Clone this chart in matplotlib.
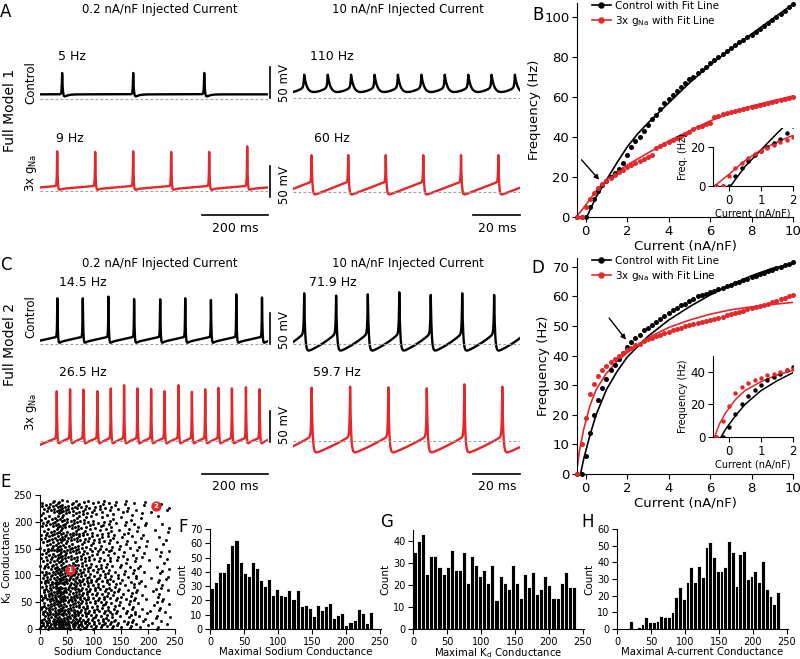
import numpy as np
import matplotlib
matplotlib.use("Agg")
import matplotlib.pyplot as plt
from matplotlib.lines import Line2D

plt.rcParams['font.family'] = ['DejaVu Sans']

# ------------------------------------------------------------------ DATA
RED = "#e5262a"

# --- voltage traces: spike times (ms) and spike peak voltages (mV)
A_ctrl_low_spikes = [67, 282, 497]
A_ctrl_low_peaks = [-18, -18, -18]
A_gna_low_spikes = [52, 167, 282, 397, 512, 627]
A_gna_low_peaks = [4, 3, 4, 3, 3, 12]
A_ctrl_high_spikes = [4.8, 14.9, 24.9, 35.0, 45.0, 55.1, 65.1, 75.2, 85.2, 95.2]
A_ctrl_high_peaks = [-22] * 10
A_gna_high_spikes = [8.0, 23.7, 39.8, 55.9, 72.1, 88.1]
A_gna_high_peaks = [-1, -1, -1, -1, -1, -1]

C_ctrl_low_spikes = [52.4, 129.4, 207.0, 284.8, 363.6, 439.4, 517.3, 594.0, 671.8]
C_ctrl_low_peaks = [19.6, 19.6, 16.9, 16.9, 20.6, 19.6, 15.3, 20.6, 19.6]
C_gna_low_spikes = [50.6, 90.9, 131.2, 173.6, 214.2, 254.5, 294.8, 336.3, 376.6,
                    419.0, 459.6, 499.9, 540.2, 580.8, 623.2, 664.4]
C_gna_low_peaks = [30, 30, 26, 30, 28, 30, 30, 29, 30, 30, 29, 30, 29, 30, 30, 30]
C_ctrl_high_spikes = [4.8, 18.5, 32.1, 45.6, 59.1, 72.6, 86.3]
C_ctrl_high_peaks = [22.3, 18.5, 20.6, 23.9, 19.6, 22.3, 19.6]
C_gna_high_spikes = [8.0, 24.5, 40.9, 57.4, 73.5, 89.8]
C_gna_high_peaks = [26, 27.6, 26.5, 25, 31.4, 27.6]

# --- f-I curves
current = [-0.4, -0.2, 0.0, 0.2, 0.4, 0.6, 0.8, 1.0, 1.2, 1.4, 1.6, 1.8, 2.0, 2.2, 2.4,
           2.6, 2.8, 3.0, 3.2, 3.4, 3.6, 3.8, 4.0, 4.2, 4.4, 4.6, 4.8, 5.0, 5.2, 5.4,
           5.6, 5.8, 6.0, 6.2, 6.4, 6.6, 6.8, 7.0, 7.2, 7.4, 7.6, 7.8, 8.0, 8.2, 8.4,
           8.6, 8.8, 9.0, 9.2, 9.4, 9.6, 9.8, 10.0]
B_ctrl = [0, 0, 0, 5, 9, 13, 16, 18, 20, 22, 24, 27, 31, 35, 38,
          40, 43, 46, 49, 51, 54, 57, 59, 61, 63, 65, 67, 69, 70, 72,
          73.5, 75, 77, 78.5, 80, 81.5, 83, 84.5, 86, 87.5, 88.5, 90, 91, 92.5, 94,
          95.5, 97, 98.5, 100, 101.5, 103, 105, 106.5]
B_gna = [0, 0, 5, 9, 12, 14.5, 16.5, 18, 19.5, 21, 22.5, 23.5, 25, 26, 27,
         28, 29, 30, 31, 34.5, 35.5, 36.5, 37.5, 38.5, 39.5, 40.5, 41.5, 42.5, 44, 45,
         45.5, 46.5, 47, 50, 50.5, 51.5, 52, 52.5, 53, 53.5, 54, 54.5, 55, 55.5, 56,
         56.5, 57, 57.5, 58, 58.5, 59, 59.5, 60]
B_ctrl_fit_x = [0.05, 0.5, 1, 1.5, 2, 2.5, 3, 4, 5, 6, 7, 8, 9, 10]
B_ctrl_fit_y = [0, 10, 18.5, 27, 35, 41.5, 47, 57, 67, 76, 84, 91.5, 99, 106.5]
B_gna_fit_x = [-0.45, 0, 0.5, 1, 1.5, 2, 2.5, 3, 3.5, 4, 5, 6, 7, 8, 9, 10]
B_gna_fit_y = [0, 6, 13, 18.5, 22.5, 26, 29, 32, 35, 38, 43, 48, 52, 55.5, 58, 60.5]

D_ctrl = [0, 0, 6, 14, 20, 25, 29, 32, 35, 37, 39, 41, 43, 44.5, 46,
          47, 48.5, 49.5, 50.5, 51.5, 52.5, 53.5, 54.5, 55.5, 56, 57, 57.5, 58.5, 59, 60,
          60.5, 61, 61.5, 62, 62.5, 63, 63.5, 64, 64.5, 65, 65.5, 66, 66.5, 67, 67.5,
          68, 68.5, 69, 69.5, 70, 70.5, 71, 71.5]
D_gna = [0, 10, 19, 27, 30.5, 33, 35, 36.5, 38, 39, 40, 41, 42, 42.5, 43.5,
         44, 45, 45.5, 46, 46.5, 47, 47.5, 48, 48.5, 49, 49.5, 50, 50.5, 50.8, 51.1,
         51.4, 51.7, 52, 52.4, 52.8, 53.2, 53.6, 54, 54.4, 54.8, 55.2, 55.6, 56, 56.4, 56.8,
         57.2, 57.6, 58, 58.5, 59, 59.5, 60, 60.5]
D_ctrl_fit_x = [-0.25, -0.1, 0.2, 0.5, 1, 1.5, 2, 3, 4, 5, 6, 7, 8, 9, 10]
D_ctrl_fit_y = [0, 5, 13, 20, 28.5, 34.5, 39.5, 46.5, 52, 56.5, 60.5, 64, 67, 69.5, 71]
D_gna_fit_x = [-0.45, -0.3, -0.1, 0.2, 0.5, 1, 1.5, 2, 3, 4, 5, 6, 7, 8, 9, 10]
D_gna_fit_y = [0, 8, 15, 23, 28.5, 34, 38, 41, 46, 49.5, 52, 54, 55.5, 56.5, 57.3, 58]

# --- conductance histograms (40 bins each)
na_counts = [29, 33, 40, 40, 46, 59, 62, 47, 39, 37, 47, 43, 34, 30, 35, 24, 28, 24, 23, 27,
             21, 27, 16, 17, 15, 9, 17, 13, 16, 18, 8, 10, 11, 3, 5, 6, 14, 11, 4, 12]
na_range = [0, 240]
kd_counts = [35, 40, 43, 25, 33, 33, 28, 25, 28, 36, 27, 27, 35, 21, 33, 29, 24, 27, 21, 29,
             13, 24, 21, 18, 29, 21, 14, 25, 19, 26, 16, 18, 24, 20, 14, 14, 21, 26, 19, 19]
kd_range = [0, 240]
ka_counts = [5, 0, 1, 3, 7, 4, 4, 5, 8, 7, 7, 10, 19, 25, 18, 28, 37, 28, 38, 31,
             49, 52, 43, 35, 35, 37, 53, 46, 26, 45, 47, 30, 32, 35, 28, 41, 24, 20, 15, 22]
ka_range = [18, 240]
model_points_na = [55, 215]
model_points_kd = [110, 230]
model_labels = ["1", "2"]

# ------------------------------------------------------------------ FIGURE
W, H = 800, 659
fig = plt.figure(figsize=(W / 100, H / 100), dpi=100)


def ftext(x, y, s, **kw):
    return fig.text(x / W, 1 - y / H, s, **kw)


def ax_px(x0, y0, x1, y1):
    return fig.add_axes([x0 / W, 1 - y1 / H, (x1 - x0) / W, (y1 - y0) / H])


S = 50 / 31.0  # mV per pixel


def trace_ax(x0, x1, y_dash, tmax, top=70, bot=50):
    ax = fig.add_axes([x0 / W, 1 - (y_dash + bot) / H, (x1 - x0) / W, (top + bot) / H])
    ax.set_xlim(0, tmax)
    ax.set_ylim(-60 - bot * S, -60 + top * S)
    ax.axis('off')
    return ax


def make_trace(tmax, dt, spikes, peaks, v_pre, v_trough, k=0.0, w_rise=0.3, w_fall=0.5,
               ahp=0.0, tau_ahp=5.0):
    t = np.arange(0, tmax + dt, dt)
    sp = np.asarray(spikes, float)
    isi = np.mean(np.diff(sp)) if len(sp) > 1 else 200.0
    ext = np.concatenate([[sp[0] - isi], sp, [sp[-1] + isi]])
    idx = np.clip(np.searchsorted(ext, t, side='right') - 1, 0, len(ext) - 2)
    phi = (t - ext[idx]) / (ext[idx + 1] - ext[idx])
    if abs(k) < 1e-6:
        g = phi
    else:
        g = (1 - np.exp(-k * phi)) / (1 - np.exp(-k))
    v = v_trough + (v_pre - v_trough) * g
    for ts, vp in zip(sp, peaks):
        tau = t - ts
        pre = tau < 0
        up = (vp - v_pre) * np.exp(np.minimum(tau, 0) / w_rise)
        down = (vp - v_trough + ahp) * np.exp(-np.maximum(tau, 0) / w_fall) \
            - ahp * np.exp(-np.maximum(tau, 0) / tau_ahp)
        v = v + np.where(pre, up, down)
    return t, v


def draw_trace(ax, t, v, color, tmax):
    ax.plot(t, v, color=color, lw=1.7, solid_joinstyle='round')
    ax.plot([0, tmax], [-60, -60], color='#a0a0a0', lw=0.8, ls=(0, (2.5, 2)))


T_LOW = 690.0
T_HIGH = 97.4
LX0, LX1 = 40, 268
RX0, RX1 = 293, 520

# ---------------- Row A
ax = trace_ax(LX0, LX1, 99, T_LOW)
t, v = make_trace(T_LOW, 0.25, A_ctrl_low_spikes, A_ctrl_low_peaks, -52.5, -52.5,
                  w_rise=1.2, w_fall=2.0, ahp=9, tau_ahp=10)
draw_trace(ax, t, v, 'black', T_LOW)
ax.plot([T_LOW + 6, T_LOW + 6], [-58, -8], color='black', lw=1.2, clip_on=False)
ftext(285, 83, "50 mV", rotation=90, ha='center', va='center', fontsize=8.5)

ax = trace_ax(LX0, LX1, 191, T_LOW)
t, v = make_trace(T_LOW, 0.25, A_gna_low_spikes, A_gna_low_peaks, -52, -57,
                  w_rise=1.0, w_fall=1.5, ahp=6, tau_ahp=6)
draw_trace(ax, t, v, RED, T_LOW)
ax.plot([T_LOW + 6, T_LOW + 6], [-70, -20], color='black', lw=1.2, clip_on=False)
ftext(285, 185, "50 mV", rotation=90, ha='center', va='center', fontsize=8.5)
ax.plot([T_LOW - 200, T_LOW], [-60 - 24 * S] * 2, color='black', lw=1.2, clip_on=False)
ftext(235, 228, "200 ms", ha='center', va='center', fontsize=9)

ax = trace_ax(RX0, RX1, 98.3, T_HIGH)
t, v = make_trace(T_HIGH, 0.02, A_ctrl_high_spikes, A_ctrl_high_peaks, -42, -53, k=-2,
                  w_rise=0.25, w_fall=1.2)
draw_trace(ax, t, v, 'black', T_HIGH)

ax = trace_ax(RX0, RX1, 191.7, T_HIGH)
t, v = make_trace(T_HIGH, 0.02, A_gna_high_spikes, A_gna_high_peaks, -44, -67,
                  w_rise=0.15, w_fall=0.3)
draw_trace(ax, t, v, RED, T_HIGH)
ax.plot([T_HIGH - 20, T_HIGH], [-60 - 23.3 * S] * 2, color='black', lw=1.2, clip_on=False)
ftext(497, 228, "20 ms", ha='center', va='center', fontsize=9)

# ---------------- Row C
ax = trace_ax(LX0, LX1, 344.3, T_LOW)
t, v = make_trace(T_LOW, 0.25, C_ctrl_low_spikes, C_ctrl_low_peaks, -48, -57,
                  w_rise=0.8, w_fall=1.5, ahp=12, tau_ahp=4)
draw_trace(ax, t, v, 'black', T_LOW)
ax.plot([T_LOW + 6, T_LOW + 6], [-60, -10], color='black', lw=1.2, clip_on=False)
ftext(285, 330, "50 mV", rotation=90, ha='center', va='center', fontsize=8.5)

ax = trace_ax(LX0, LX1, 441, T_LOW)
t, v = make_trace(T_LOW, 0.25, C_gna_low_spikes, C_gna_low_peaks, -55, -64,
                  w_rise=0.8, w_fall=1.5, ahp=13, tau_ahp=4)
draw_trace(ax, t, v, RED, T_LOW)
ax.plot([T_LOW + 6, T_LOW + 6], [-61, -11], color='black', lw=1.2, clip_on=False)
ftext(285, 425, "50 mV", rotation=90, ha='center', va='center', fontsize=8.5)
ax.plot([T_LOW - 200, T_LOW], [-60 - 33 * S] * 2, color='black', lw=1.2, clip_on=False)
ftext(235, 487, "200 ms", ha='center', va='center', fontsize=9)

ax = trace_ax(RX0, RX1, 344.3, T_HIGH)
t, v = make_trace(T_HIGH, 0.02, C_ctrl_high_spikes, C_ctrl_high_peaks, -42, -74, k=-0.8,
                  w_rise=0.2, w_fall=0.4)
draw_trace(ax, t, v, 'black', T_HIGH)

ax = trace_ax(RX0, RX1, 441, T_HIGH)
t, v = make_trace(T_HIGH, 0.02, C_gna_high_spikes, C_gna_high_peaks, -52, -82, k=-0.5,
                  w_rise=0.2, w_fall=0.4)
draw_trace(ax, t, v, RED, T_HIGH)
ax.plot([T_HIGH - 20, T_HIGH], [-60 - 33 * S] * 2, color='black', lw=1.2, clip_on=False)
ftext(497, 487, "20 ms", ha='center', va='center', fontsize=9)

# texts for trace rows
ftext(160, 10, "0.2 nA/nF Injected Current", ha='center', va='center', fontsize=8.5)
ftext(408, 10, "10 nA/nF Injected Current", ha='center', va='center', fontsize=8.5)
ftext(160, 263, "0.2 nA/nF Injected Current", ha='center', va='center', fontsize=8.5)
ftext(408, 263, "10 nA/nF Injected Current", ha='center', va='center', fontsize=8.5)
ftext(72, 57, "5 Hz", ha='center', va='center', fontsize=9)
ftext(70, 139, "9 Hz", ha='center', va='center', fontsize=9)
ftext(332, 57, "110 Hz", ha='center', va='center', fontsize=9)
ftext(332, 139, "60 Hz", ha='center', va='center', fontsize=9)
ftext(83, 282, "14.5 Hz", ha='center', va='center', fontsize=9)
ftext(83, 372, "26.5 Hz", ha='center', va='center', fontsize=9)
ftext(333, 282, "71.9 Hz", ha='center', va='center', fontsize=9)
ftext(337, 372, "59.7 Hz", ha='center', va='center', fontsize=9)
ftext(10, 110, "Full Model 1", rotation=90, ha='center', va='center', fontsize=10)
ftext(10, 345, "Full Model 2", rotation=90, ha='center', va='center', fontsize=10)
ftext(31, 83, "Control", rotation=90, ha='center', va='center', fontsize=8.5)
ftext(31, 173, "3x g$_{\\mathregular{Na}}$", rotation=90, ha='center', va='center', fontsize=8.5)
ftext(31, 317, "Control", rotation=90, ha='center', va='center', fontsize=8.5)
ftext(31, 412, "3x g$_{\\mathregular{Na}}$", rotation=90, ha='center', va='center', fontsize=8.5)

for lab, x, y in [("A", 6, 12), ("B", 538, 15), ("C", 6, 265), ("D", 538, 268),
                  ("E", 6, 482), ("F", 183, 527), ("G", 387, 522), ("H", 588, 522)]:
    ftext(x, y, lab, ha='center', va='center', fontsize=12)


# ---------------- f-I panels
def style(ax, fs):
    for s in ['top', 'right']:
        ax.spines[s].set_visible(False)
    ax.tick_params(direction='out', length=3.5, width=0.8, labelsize=fs, pad=2)


def fi_panel(box, yctrl, ygna, fcx, fcy, fgx, fgy, ylim, yticks, arrow):
    ax = ax_px(*box)
    style(ax, 9.5)
    ax.plot(fcx, fcy, color='black', lw=1.2, zorder=2)
    ax.plot(fgx, fgy, color=RED, lw=1.2, zorder=2)
    ax.plot(current, yctrl, 'o', color='black', ms=3.6, mew=0, zorder=3, clip_on=False)
    ax.plot(current, ygna, 'o', color=RED, ms=3.6, mew=0, zorder=3, clip_on=False)
    ax.set_xlim(-0.42, 10)
    ax.set_ylim(0, ylim)
    ax.set_xticks([0, 2, 4, 6, 8, 10])
    ax.set_yticks(yticks)
    ax.set_xlabel("Current (nA/nF)", fontsize=9.5, labelpad=1)
    ax.set_ylabel("Frequency (Hz)", fontsize=9.5, labelpad=2)
    ax.annotate("", xy=arrow[1], xytext=arrow[0],
                arrowprops=dict(arrowstyle='-|>', color='black', lw=1.0,
                                mutation_scale=7, shrinkA=0, shrinkB=0))
    handles = [Line2D([], [], color='black', marker='o', ms=3.6, lw=1.2),
               Line2D([], [], color=RED, marker='o', ms=3.6, lw=1.2)]
    ax.legend(handles, ["Control with Fit Line", "3x g$_{\\mathregular{Na}}$ with Fit Line"],
              loc='upper left', bbox_to_anchor=(0.05, 1.03), frameon=False, fontsize=7.5,
              handlelength=1.8, handletextpad=0.4, labelspacing=0.3, borderaxespad=0)
    return ax


def fi_inset(box, yctrl, ygna, fcx, fcy, fgx, fgy, ylim, yticks, ylabel, spine_top):
    ax = ax_px(*box)
    style(ax, 8.5)
    ax.plot(fcx, fcy, color='black', lw=1.1, zorder=2)
    ax.plot(fgx, fgy, color=RED, lw=1.1, zorder=2)
    ax.plot(current, yctrl, 'o', color='black', ms=3.2, mew=0, zorder=3)
    ax.plot(current, ygna, 'o', color=RED, ms=3.2, mew=0, zorder=3)
    ax.set_xlim(-0.5, 2)
    ax.set_ylim(0, ylim)
    ax.spines['left'].set_bounds(0, spine_top)
    ax.set_xticks([0, 1, 2])
    ax.set_yticks(yticks)
    ax.set_xlabel("Current (nA/nF)", fontsize=7, labelpad=1)
    ax.set_ylabel(ylabel, fontsize=7, labelpad=2)
    ax.patch.set_alpha(0)
    return ax


fi_panel((577, 3, 793, 217), B_ctrl, B_gna, B_ctrl_fit_x, B_ctrl_fit_y, B_gna_fit_x, B_gna_fit_y,
         107, [0, 20, 40, 60, 80, 100], ((-0.2, 28.6), (0.65, 18.6)))
fi_inset((713, 127.5, 793, 186), B_ctrl, B_gna, B_ctrl_fit_x, B_ctrl_fit_y, B_gna_fit_x,
         B_gna_fit_y, 30, [0, 20], "Freq. (Hz)", 20)
fi_panel((577, 258, 793, 474), D_ctrl, D_gna, D_ctrl_fit_x, D_ctrl_fit_y, D_gna_fit_x, D_gna_fit_y,
         73, [0, 10, 20, 30, 40, 50, 60, 70], ((1.13, 52.7), (1.94, 45.4)))
fi_inset((713, 355.6, 793, 437), D_ctrl, D_gna, D_ctrl_fit_x, D_ctrl_fit_y, D_gna_fit_x,
         D_gna_fit_y, 50, [0, 20, 40], "Frequency (Hz)", 50)


# ---------------- bottom row
def inv_cdf(u, counts, rng):
    counts = np.asarray(counts, float)
    edges = np.linspace(rng[0], rng[1], len(counts) + 1)
    cdf = np.concatenate([[0.0], np.cumsum(counts)]) / counts.sum()
    return np.interp(u, cdf, edges)


def hist_panel(box, counts, rng, xlabel, ylim, yticks):
    ax = ax_px(*box)
    style(ax, 7)
    n = len(counts)
    w = (rng[1] - rng[0]) / n
    left = [rng[0] + i * w for i in range(n)]
    ax.bar(left, counts, width=w, align='edge', color='black', edgecolor='white', linewidth=0.6)
    ax.set_xlim(0, 252)
    ax.set_ylim(0, ylim)
    ax.set_xticks([0, 50, 100, 150, 200, 250])
    ax.set_yticks(yticks)
    ax.set_xlabel(xlabel, fontsize=7.3, labelpad=0)
    ax.set_ylabel("Count", fontsize=7.5, labelpad=2)
    return ax


# E scatter: one point per model; coordinates placed through the histogram
# quantiles of panels F (sodium) and G (Kd) using an even 2-D quasi-uniform layout
n_models = int(np.sum(na_counts))
g = 1.32471795724474602596
idx = np.arange(n_models)
u = np.mod(0.5 + idx / g, 1.0)
w2 = np.mod(0.5 + idx / g ** 2, 1.0)
na_vals = inv_cdf(u, na_counts, na_range)
kd_vals = inv_cdf(w2, kd_counts, kd_range)

ax = ax_px(40, 495, 175, 629)
style(ax, 7)
ax.scatter(na_vals, kd_vals, s=4.5, color='black', linewidths=0, clip_on=False)
ax.scatter(model_points_na, model_points_kd, s=55, color=RED, linewidths=0, zorder=4)
for xx, yy, lab in zip(model_points_na, model_points_kd, model_labels):
    ax.text(xx, yy, lab, color='white', fontsize=5, ha='center', va='center',
            fontweight='bold', zorder=5)
ax.set_xlim(0, 250)
ax.set_ylim(0, 250)
ax.set_xticks([0, 50, 100, 150, 200, 250])
ax.set_yticks([0, 50, 100, 150, 200, 250])
ax.set_xlabel("Sodium Conductance", fontsize=7.3, labelpad=0)
ax.set_ylabel("K$_{\\mathregular{d}}$ Conductance", fontsize=7.5, labelpad=0)

hist_panel((210, 529, 381, 629), na_counts, na_range, "Maximal Sodium Conductance", 70,
           [0, 10, 20, 30, 40, 50, 60, 70])
hist_panel((413, 530, 584, 629), kd_counts, kd_range, "Maximal K$_{\\mathregular{d}}$ Conductance", 45,
           [0, 10, 20, 30, 40])
hist_panel((617, 529, 788, 629), ka_counts, ka_range, "Maximal A-current Conductance", 60,
           [0, 10, 20, 30, 40, 50, 60])

fig.savefig("out.png", dpi=100)
